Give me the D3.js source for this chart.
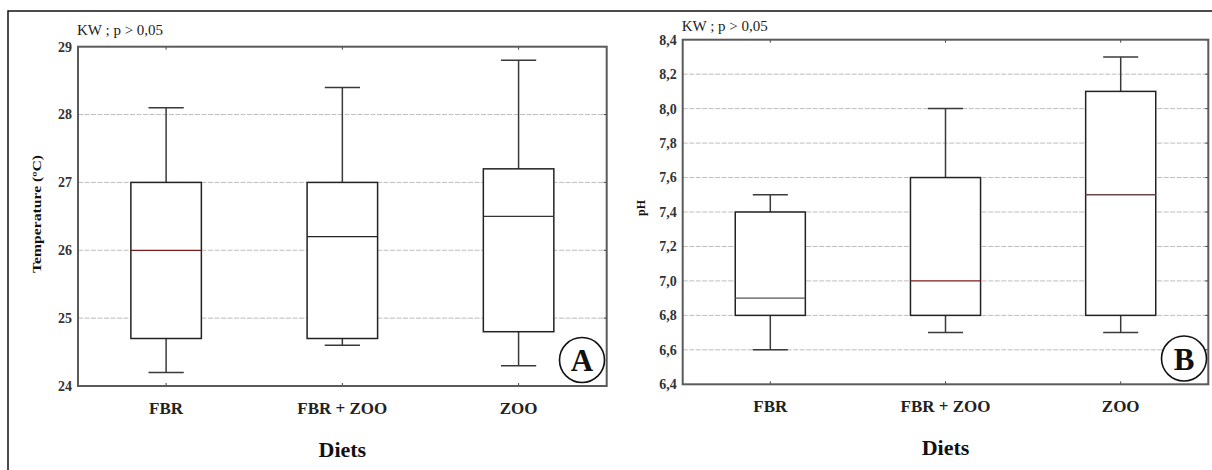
<!DOCTYPE html>
<html>
<head>
<meta charset="utf-8">
<script src="https://cdn.jsdelivr.net/npm/d3@7"></script>
<style>
  body { margin: 0; background: #fff; }
  svg { display: block; }
</style>
</head>
<body>
<script>
// data
var diets = ["FBR", "FBR + ZOO", "ZOO"];

var tempMin    = [24.2, 24.6, 24.3];
var tempQ1     = [24.7, 24.7, 24.8];
var tempMedian = [26.0, 26.2, 26.5];
var tempQ3     = [27.0, 27.0, 27.2];
var tempMax    = [28.1, 28.4, 28.8];
var tempTicks  = [24, 25, 26, 27, 28, 29];

var phMin    = [6.6, 6.7, 6.7];
var phQ1     = [6.8, 6.8, 6.8];
var phMedian = [6.9, 7.0, 7.5];
var phQ3     = [7.4, 7.6, 8.1];
var phMax    = [7.5, 8.0, 8.3];
var phTicks  = [6.4, 6.6, 6.8, 7.0, 7.2, 7.4, 7.6, 7.8, 8.0, 8.2, 8.4];

var width = 1212, height = 470;
var serif = "Liberation Serif, DejaVu Serif, Noto Serif, serif";

var svg = d3.select("body").append("svg")
    .attr("width", width)
    .attr("height", height);

// outer frame (top + left only)
svg.append("path")
    .attr("d", "M8,470 L8,11 L1212,11")
    .attr("fill", "none")
    .attr("stroke", "#111")
    .attr("stroke-width", 1.5);

function buildRows(mins, q1s, meds, q3s, maxs) {
  return diets.map(function(d, i) {
    return {diet: d, min: mins[i], q1: q1s[i], median: meds[i], q3: q3s[i], max: maxs[i]};
  });
}

function drawPanel(cfg) {
  var g = svg.append("g");
  var x = d3.scaleBand().domain(diets).range([cfg.left, cfg.right]).padding(0);
  var y = d3.scaleLinear().domain([cfg.ticks[0], cfg.ticks[cfg.ticks.length - 1]])
      .range([cfg.bottom, cfg.top]);
  var bw = x.bandwidth() * 0.4;
  var cw = x.bandwidth() * 0.2;

  // grid lines
  g.selectAll(".grid")
    .data(cfg.ticks.slice(1, -1))
    .enter().append("line")
      .attr("x1", cfg.left).attr("x2", cfg.right)
      .attr("y1", function(d) { return y(d); })
      .attr("y2", function(d) { return y(d); })
      .attr("stroke", "#bdbdbd")
      .attr("stroke-width", 1)
      .attr("stroke-dasharray", "5,1.5");

  // right ticks
  g.selectAll(".rtick")
    .data(cfg.ticks)
    .enter().append("line")
      .attr("x1", cfg.right - 3).attr("x2", cfg.right)
      .attr("y1", function(d) { return y(d); })
      .attr("y2", function(d) { return y(d); })
      .attr("stroke", "#444");

  // top / bottom ticks at category centers
  diets.forEach(function(d) {
    var cx = x(d) + x.bandwidth() / 2;
    g.append("line").attr("x1", cx).attr("x2", cx)
      .attr("y1", cfg.top).attr("y2", cfg.top + 3).attr("stroke", "#444");
    g.append("line").attr("x1", cx).attr("x2", cx)
      .attr("y1", cfg.bottom).attr("y2", cfg.bottom - 3).attr("stroke", "#444");
  });

  var box = g.selectAll(".box")
    .data(cfg.rows)
    .enter().append("g");

  // whiskers
  box.append("line")
    .attr("x1", function(d) { return x(d.diet) + x.bandwidth() / 2; })
    .attr("x2", function(d) { return x(d.diet) + x.bandwidth() / 2; })
    .attr("y1", function(d) { return y(d.max); })
    .attr("y2", function(d) { return y(d.min); })
    .attr("stroke", "#3a3a3a").attr("stroke-width", 1.5);
  ["max", "min"].forEach(function(k) {
    box.append("line")
      .attr("x1", function(d) { return x(d.diet) + x.bandwidth() / 2 - cw / 2; })
      .attr("x2", function(d) { return x(d.diet) + x.bandwidth() / 2 + cw / 2; })
      .attr("y1", function(d) { return y(d[k]); })
      .attr("y2", function(d) { return y(d[k]); })
      .attr("stroke", "#3a3a3a").attr("stroke-width", 1.5);
  });

  // boxes
  box.append("rect")
    .attr("x", function(d) { return x(d.diet) + x.bandwidth() / 2 - bw / 2; })
    .attr("width", bw)
    .attr("y", function(d) { return y(d.q3); })
    .attr("height", function(d) { return y(d.q1) - y(d.q3); })
    .attr("fill", "#fff")
    .attr("stroke", "#222")
    .attr("stroke-width", 1.5);

  // medians
  box.append("line")
    .attr("x1", function(d) { return x(d.diet) + x.bandwidth() / 2 - bw / 2; })
    .attr("x2", function(d) { return x(d.diet) + x.bandwidth() / 2 + bw / 2; })
    .attr("y1", function(d) { return y(d.median); })
    .attr("y2", function(d) { return y(d.median); })
    .attr("stroke", function(d, i) { return cfg.medianColors[i]; })
    .attr("stroke-width", 1.3);

  // plot frame
  g.append("rect")
    .attr("x", cfg.left).attr("y", cfg.top)
    .attr("width", cfg.right - cfg.left)
    .attr("height", cfg.bottom - cfg.top)
    .attr("fill", "none")
    .attr("stroke", "#5a5a5a")
    .attr("stroke-width", 2);

  // y tick labels
  g.selectAll(".ylab")
    .data(cfg.ticks)
    .enter().append("text")
      .attr("x", cfg.left - 6)
      .attr("y", function(d) { return y(d); })
      .attr("dy", "0.35em")
      .attr("text-anchor", "end")
      .attr("font-family", serif)
      .attr("font-weight", "bold")
      .attr("font-size", "14px")
      .attr("fill", "#333")
      .text(cfg.format);

  // x tick labels
  g.selectAll(".xlab")
    .data(diets)
    .enter().append("text")
      .attr("x", function(d) { return x(d) + x.bandwidth() / 2; })
      .attr("y", cfg.bottom + 28)
      .attr("text-anchor", "middle")
      .attr("font-family", serif)
      .attr("font-weight", "bold")
      .attr("font-size", "17px")
      .attr("fill", "#222")
      .text(function(d) { return d; });

  // x axis title
  g.append("text")
    .attr("x", (cfg.left + cfg.right) / 2)
    .attr("y", cfg.bottom + 71)
    .attr("text-anchor", "middle")
    .attr("font-family", serif)
    .attr("font-weight", "bold")
    .attr("font-size", "22px")
    .attr("fill", "#111")
    .text("Diets");

  // y axis title
  var yt = g.append("text")
    .attr("transform", "translate(" + cfg.yTitleX + "," + cfg.yTitleY + ") rotate(-90)")
    .attr("dy", "0.35em")
    .attr("text-anchor", "middle")
    .attr("font-family", serif)
    .attr("font-weight", "bold")
    .attr("font-size", "12px")
    .attr("fill", "#111")
    .text(cfg.yTitle);
  if (cfg.yTitleLength) {
    yt.attr("textLength", cfg.yTitleLength).attr("lengthAdjust", "spacingAndGlyphs");
  }

  // test note
  g.append("text")
    .attr("x", cfg.left - 1)
    .attr("y", cfg.noteY)
    .attr("font-family", serif)
    .attr("font-size", "15px")
    .attr("fill", "#222")
    .text("KW ; p > 0,05");

  // panel letter
  g.append("circle")
    .attr("cx", cfg.letterX).attr("cy", cfg.letterY).attr("r", 22.5)
    .attr("fill", "#fff").attr("stroke", "#111").attr("stroke-width", 1.6);
  g.append("text")
    .attr("x", cfg.letterX).attr("y", cfg.letterY + 11)
    .attr("text-anchor", "middle")
    .attr("font-family", serif)
    .attr("font-weight", "bold")
    .attr("font-size", "31px")
    .attr("fill", "#111")
    .text(cfg.letter);
}

drawPanel({
  left: 78, top: 46.7, right: 606.7, bottom: 386,
  ticks: tempTicks,
  rows: buildRows(tempMin, tempQ1, tempMedian, tempQ3, tempMax),
  medianColors: ["#7a1c1c", "#222", "#333"],
  format: function(d) { return d3.format("d")(d); },
  yTitle: "Temperature (ºC)", yTitleX: 37, yTitleY: 214, yTitleLength: 118,
  noteY: 35,
  letter: "A", letterX: 582, letterY: 360
});

drawPanel({
  left: 682.7, top: 39.7, right: 1208.3, bottom: 384.3,
  ticks: phTicks,
  rows: buildRows(phMin, phQ1, phMedian, phQ3, phMax),
  medianColors: ["#555", "#7a1c1c", "#6b4848"],
  format: function(d) { return d3.format(".1f")(d).replace(".", ","); },
  yTitle: "pH", yTitleX: 641, yTitleY: 208, yTitleLength: null,
  noteY: 31,
  letter: "B", letterX: 1184, letterY: 358.5
});
</script>
</body>
</html>
